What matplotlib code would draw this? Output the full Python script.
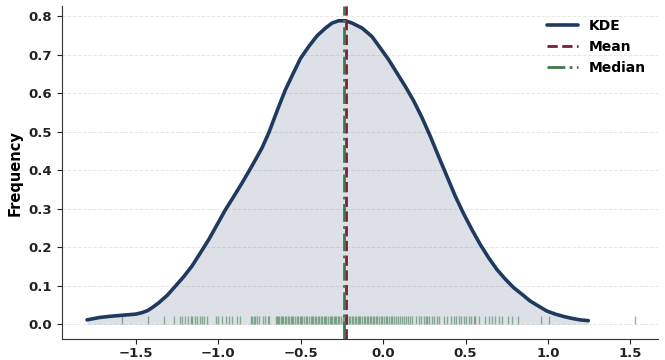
import matplotlib
matplotlib.use("Agg")
import matplotlib.pyplot as plt

# KDE curve
kde_x = [-1.797, -1.724, -1.664, -1.583, -1.50, -1.462, -1.43, -1.401, -1.36, -1.31,
         -1.26, -1.209, -1.16, -1.108, -1.058, -1.007, -0.956, -0.906, -0.856, -0.815,
         -0.775, -0.735, -0.694, -0.664, -0.633, -0.593, -0.553, -0.502, -0.452, -0.401,
         -0.350, -0.310, -0.270, -0.229, -0.189, -0.128, -0.068, -0.017, 0.033, 0.084,
         0.135, 0.185, 0.235, 0.286, 0.336, 0.387, 0.438, 0.488, 0.538, 0.589,
         0.639, 0.690, 0.741, 0.791, 0.841, 0.892, 0.942, 0.993, 1.044, 1.094,
         1.144, 1.195, 1.245]
kde_y = [0.011, 0.017, 0.020, 0.023, 0.026, 0.030, 0.035, 0.043, 0.056, 0.075,
         0.099, 0.124, 0.151, 0.186, 0.220, 0.259, 0.298, 0.332, 0.367, 0.397,
         0.427, 0.458, 0.497, 0.531, 0.566, 0.609, 0.645, 0.690, 0.721, 0.749,
         0.769, 0.782, 0.788, 0.788, 0.782, 0.769, 0.747, 0.717, 0.687, 0.652,
         0.617, 0.580, 0.537, 0.488, 0.436, 0.384, 0.332, 0.287, 0.246, 0.207,
         0.173, 0.142, 0.117, 0.095, 0.078, 0.060, 0.047, 0.034, 0.026, 0.020,
         0.015, 0.011, 0.009]
mean_val = -0.225
median_val = -0.235

# rug positions (approximate, read from the strip along the baseline)
rug = [-1.587, -1.425, -1.33, -1.27, -1.235, -1.223, -1.203, -1.183, -1.169, -1.159,
       -1.142, -1.128, -1.114, -1.102, -1.088, -1.068, -1.017, -1.001, -0.977, -0.956,
       -0.936, -0.916, -0.886, -0.866, -0.805, -0.795, -0.785, -0.775, -0.765, -0.755,
       -0.73, -0.715, -0.70, -0.69, -0.653, -0.645, -0.638, -0.630, -0.622, -0.615,
       -0.607, -0.598, -0.590, -0.580, -0.572, -0.560, -0.552, -0.545, -0.535, -0.525,
       -0.515, -0.505, -0.498, -0.490, -0.478, -0.470, -0.462, -0.450, -0.440, -0.432,
       -0.425, -0.415, -0.405, -0.395, -0.388, -0.378, -0.370, -0.360, -0.352, -0.345,
       -0.335, -0.325, -0.318, -0.310, -0.300, -0.292, -0.285, -0.275, -0.265, -0.255,
       -0.245, -0.238, -0.228, -0.218, -0.210, -0.200, -0.190, -0.182, -0.172, -0.165,
       -0.155, -0.145, -0.138, -0.128, -0.118, -0.110, -0.100, -0.090, -0.082, -0.072,
       -0.062, -0.055, -0.045, -0.035, -0.025, -0.015, -0.005, 0.005, 0.015, 0.025,
       0.035, 0.045, 0.055, 0.068, 0.080, 0.090, 0.100, 0.112, 0.125, 0.138,
       0.150, 0.162, 0.175, 0.20, 0.215, 0.23, 0.245, 0.26, 0.265, 0.28,
       0.295, 0.31, 0.325, 0.336, 0.37, 0.39, 0.41, 0.43, 0.445, 0.46,
       0.475, 0.49, 0.505, 0.52, 0.535, 0.55, 0.56, 0.58, 0.62, 0.64,
       0.66, 0.68, 0.70, 0.72, 0.76, 0.78, 0.82, 0.96, 1.007, 1.528]

NAVY = "#1e3a5f"
MAROON = "#7b1e3c"
GREEN = "#3d7a4a"

fig = plt.figure(figsize=(6.65, 3.6), dpi=100)
ax = fig.add_axes([0.093, 0.058, 0.897, 0.925])

ax.fill_between(kde_x, 0, kde_y, color=NAVY, alpha=0.15, lw=0)
ax.plot(kde_x, kde_y, color=NAVY, lw=2.6, label="KDE", zorder=4,
        solid_joinstyle="round", solid_capstyle="round")
ax.vlines(rug, 0, 0.022, color=GREEN, alpha=0.55, lw=1.0, zorder=3)
ax.axvline(mean_val, color=MAROON, ls="--", lw=2, label="Mean", zorder=5)
ax.axvline(median_val, color=GREEN, ls="-.", lw=2, label="Median", zorder=5)

ax.set_xlim(-1.95, 1.67)
ax.set_ylim(-0.039, 0.826)
ax.set_xticks([-1.5, -1.0, -0.5, 0.0, 0.5, 1.0, 1.5])
ax.set_yticks([0.0, 0.1, 0.2, 0.3, 0.4, 0.5, 0.6, 0.7, 0.8])
ax.grid(axis="y", ls="--", color="#dddddd", lw=0.7, alpha=0.7)
ax.set_axisbelow(True)
for s in ("top", "right"):
    ax.spines[s].set_visible(False)
for s in ("left", "bottom"):
    ax.spines[s].set_color("#333333")
for lbl in ax.get_xticklabels() + ax.get_yticklabels():
    lbl.set_fontweight("bold")
ax.tick_params(labelsize=9.5, colors="#222222")
ax.tick_params(axis="x", pad=2.5)
ax.set_ylabel("Frequency", fontsize=10.5, fontweight="bold")

leg = ax.legend(loc="upper right", frameon=False, prop={"weight": "bold", "size": 10},
                handlelength=2.2)

fig.savefig("out.png", dpi=100)
